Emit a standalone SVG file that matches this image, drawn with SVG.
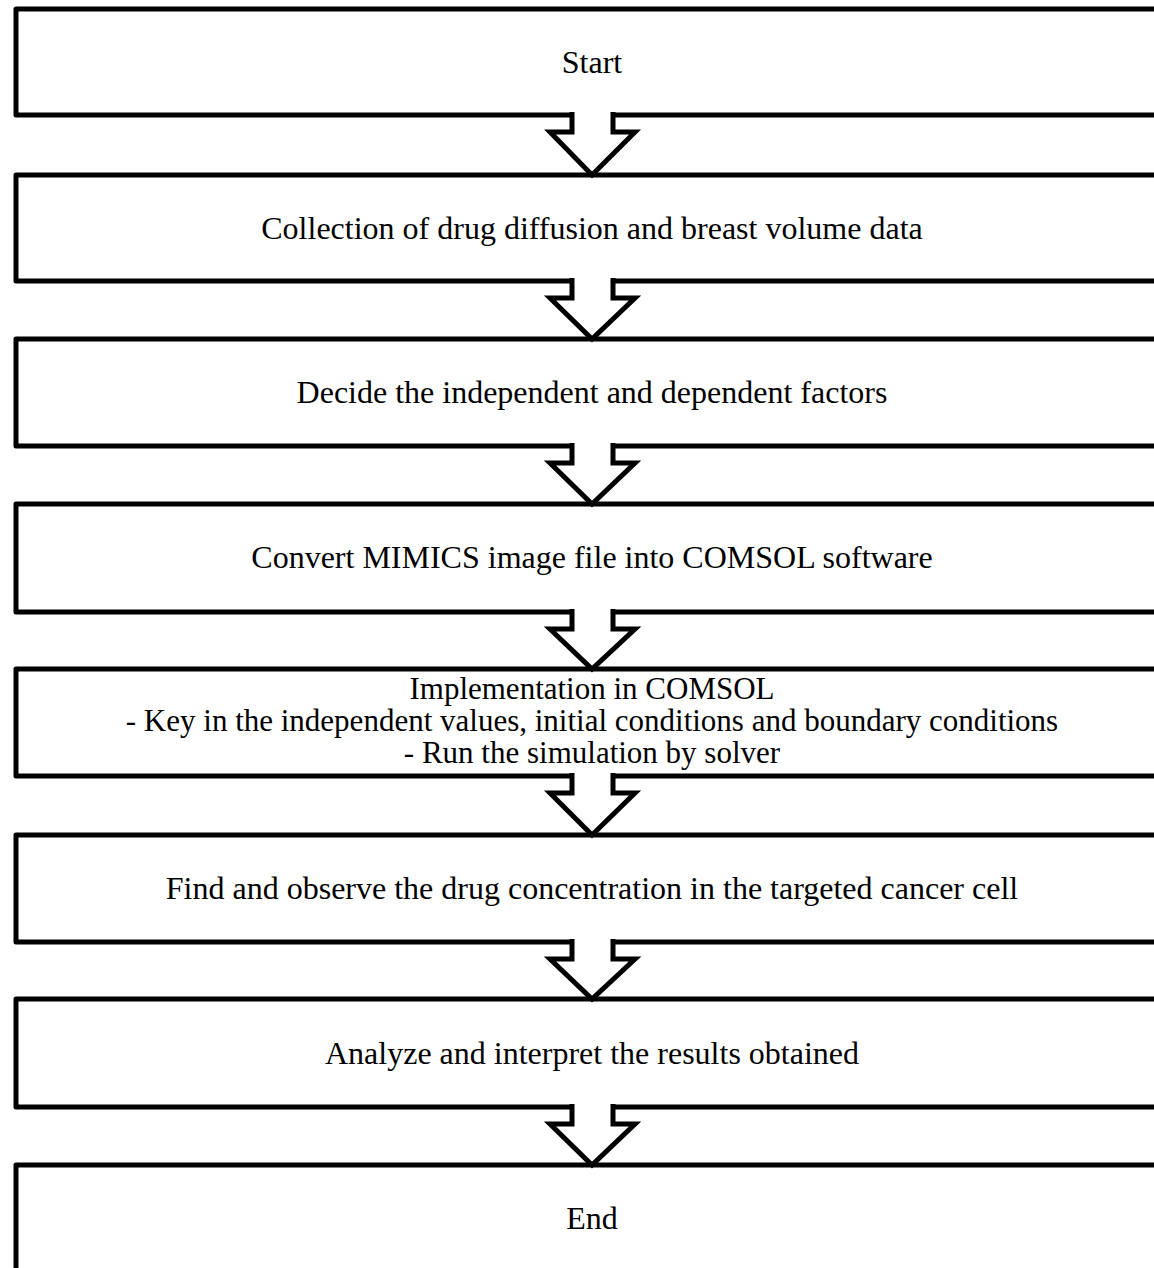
<svg xmlns="http://www.w3.org/2000/svg" width="1154" height="1268" viewBox="0 0 1154 1268">
<style>
.box{fill:#fff;stroke:#000;stroke-width:5;stroke-linejoin:round}
.arr{fill:#fff;stroke:#000;stroke-width:5;stroke-linejoin:miter}
text{font-family:"Liberation Serif","Times New Roman",serif;font-size:32px;fill:#000;text-anchor:middle}
.sm{font-size:31px}
</style>
<rect width="1154" height="1268" fill="#fff"/>
<g id="n1"><rect class="box" x="16" y="9" width="1152" height="106"/><text x="592" y="73">Start</text></g>
<g id="n2"><rect class="box" x="16" y="175" width="1152" height="106"/><text x="592" y="239">Collection of drug diffusion and breast volume data</text></g>
<g id="n3"><rect class="box" x="16" y="339" width="1152" height="107"/><text x="592" y="403">Decide the independent and dependent factors</text></g>
<g id="n4"><rect class="box" x="16" y="504" width="1152" height="108"/><text x="592" y="568">Convert MIMICS image file into COMSOL software</text></g>
<g id="n5"><rect class="box" x="16" y="669" width="1152" height="107"/><text class="sm" x="592" y="699">Implementation in COMSOL</text><text class="sm" x="592" y="731">- Key in the independent values, initial conditions and boundary conditions</text><text class="sm" x="592" y="763">- Run the simulation by solver</text></g>
<g id="n6"><rect class="box" x="16" y="835" width="1152" height="107"/><text x="592" y="899">Find and observe the drug concentration in the targeted cancer cell</text></g>
<g id="n7"><rect class="box" x="16" y="999" width="1152" height="108"/><text x="592" y="1064">Analyze and interpret the results obtained</text></g>
<g id="n8"><rect class="box" x="16" y="1165" width="1152" height="108"/><text x="592" y="1229">End</text></g>
<g id="connectors">
<polyline class="arr" points="572,112 572,132 550,132 592,175 635,132 613,132 613,112"/>
<polyline class="arr" points="572,278 572,298 550,298 592,339 635,298 613,298 613,278"/>
<polyline class="arr" points="572,443 572,463 550,463 592,504 635,463 613,463 613,443"/>
<polyline class="arr" points="572,609 572,629 550,629 592,669 635,629 613,629 613,609"/>
<polyline class="arr" points="572,773 572,793 550,793 592,835 635,793 613,793 613,773"/>
<polyline class="arr" points="572,939 572,959 550,959 592,999 635,959 613,959 613,939"/>
<polyline class="arr" points="572,1104 572,1124 550,1124 592,1165 635,1124 613,1124 613,1104"/>
</g>
</svg>
